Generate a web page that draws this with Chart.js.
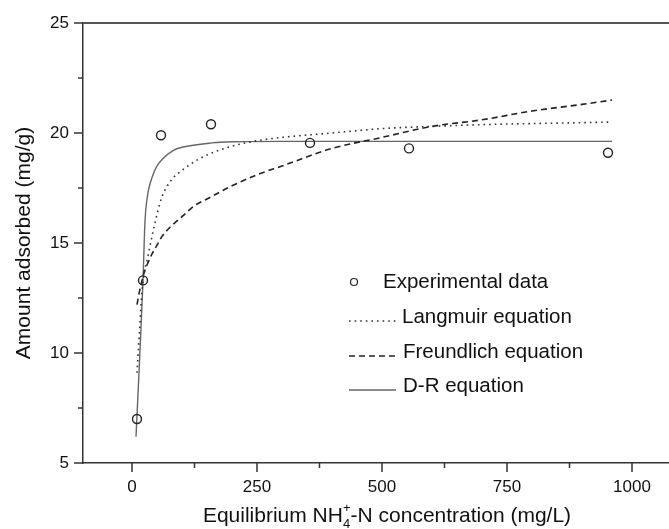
<!DOCTYPE html>
<html>
<head>
<meta charset="utf-8">
<script src="https://cdn.jsdelivr.net/npm/chart.js@4/dist/chart.umd.min.js"></script>
<style>
  html, body { margin: 0; padding: 0; background: #fff; }
  #wrap { width: 669px; height: 529px; }
</style>
</head>
<body>
<div id="wrap"><canvas id="chart"></canvas></div>
<script>
// Experimental points
const expX = [10, 22, 58, 158, 356, 554, 952];
const expY = [7.0, 13.3, 19.9, 20.4, 19.55, 19.3, 19.1];

// Langmuir fit
const langX = [10, 15, 20, 25, 30, 40, 50, 60, 80, 100, 125, 150, 200, 250, 300, 400, 500, 600, 700, 800, 900, 960];
const langY = [9.1, 11.0, 12.8, 13.7, 14.2, 15.3, 16.3, 17.1, 17.9, 18.3, 18.7, 19.0, 19.4, 19.65, 19.8, 20.0, 20.2, 20.3, 20.38, 20.43, 20.47, 20.5];

// Freundlich fit (dashed curve)
const freuX = [10, 15, 20, 25, 30, 40, 50, 60, 80, 100, 125, 150, 200, 250, 300, 400, 500, 600, 700, 800, 900, 960];
const freuY = [12.2, 12.8, 13.3, 13.7, 14.0, 14.5, 14.9, 15.3, 15.8, 16.2, 16.7, 17.0, 17.6, 18.1, 18.5, 19.3, 19.8, 20.3, 20.6, 21.0, 21.3, 21.5];

// D-R fit (solid curve)
const drX = [8, 15, 22, 26, 30, 42, 50, 60, 82, 100, 160, 200, 300, 500, 700, 960];
const drY = [6.2, 9.6, 13.3, 16.0, 17.0, 18.1, 18.5, 18.8, 19.2, 19.35, 19.55, 19.6, 19.62, 19.62, 19.62, 19.62];

// Axis ticks
const xMajor = [0, 250, 500, 750, 1000];
const xMinor = [125, 375, 625, 875];
const yMajor = [5, 10, 15, 20, 25];
const yMinor = [7.5, 12.5, 17.5, 22.5];

const xTitle = ['Equilibrium NH', '4', '+', '-N concentration (mg/L)'];
const yTitle = 'Amount adsorbed (mg/g)';

const FONT = 'Arial, "Liberation Sans", Helvetica, sans-serif';

function pts(xs, ys) {
  return xs.map((v, i) => ({ x: v, y: ys[i] }));
}

// tick marks, top border and x title with sub/superscript
const axisExtras = {
  id: 'axisExtras',
  afterDraw(chart) {
    const { ctx, chartArea: a, scales: { x, y } } = chart;
    ctx.save();
    ctx.strokeStyle = '#333';
    ctx.lineWidth = 1.5;
    const seg = (x1, y1, x2, y2) => {
      ctx.beginPath(); ctx.moveTo(x1, y1); ctx.lineTo(x2, y2); ctx.stroke();
    };
    xMajor.forEach(v => { const p = x.getPixelForValue(v); seg(p, a.bottom, p, a.bottom + 9); });
    xMinor.forEach(v => { const p = x.getPixelForValue(v); seg(p, a.bottom, p, a.bottom + 5); });
    yMajor.forEach(v => { const p = y.getPixelForValue(v); seg(a.left, p, a.left - 9, p); });
    yMinor.forEach(v => { const p = y.getPixelForValue(v); seg(a.left, p, a.left - 5, p); });
    ctx.strokeStyle = '#555';
    ctx.lineWidth = 2;
    seg(a.left, a.top, a.right, a.top);

    // x axis title
    const big = '21px ' + FONT, small = '13px ' + FONT;
    ctx.fillStyle = '#111';
    ctx.textBaseline = 'alphabetic';
    ctx.textAlign = 'left';
    ctx.font = big;
    const w1 = ctx.measureText(xTitle[0]).width;
    const w4 = ctx.measureText(xTitle[3]).width;
    ctx.font = small;
    const ws = Math.max(ctx.measureText(xTitle[1]).width, ctx.measureText(xTitle[2]).width);
    const total = w1 + ws + w4;
    const cx = x.getPixelForValue(510);
    const base = 522;
    let sx = cx - total / 2;
    ctx.font = big;
    ctx.fillText(xTitle[0], sx, base);
    ctx.font = small;
    ctx.fillText(xTitle[1], sx + w1, base + 6);
    ctx.fillText(xTitle[2], sx + w1, base - 10);
    ctx.font = big;
    ctx.fillText(xTitle[3], sx + w1 + ws, base);
    ctx.restore();
  }
};

// legend inside the plot, Origin style
const legendRows = [
  { sx: 354, tx: 383, y: 282 },
  { sx: 349, tx: 402, y: 317 },
  { sx: 349, tx: 403, y: 352 },
  { sx: 349, tx: 403, y: 386 }
];
const insideLegend = {
  id: 'insideLegend',
  afterDraw(chart) {
    const ctx = chart.ctx;
    ctx.save();
    ctx.font = '20.5px ' + FONT;
    ctx.textBaseline = 'middle';
    ctx.textAlign = 'left';
    chart.data.datasets.forEach((ds, i) => {
      const r = legendRows[i];
      ctx.strokeStyle = ds.borderColor;
      ctx.lineWidth = ds.borderWidth;
      if (!ds.showLine) {
        ctx.beginPath();
        ctx.arc(r.sx, r.y, 3.5, 0, Math.PI * 2);
        ctx.stroke();
      } else {
        ctx.setLineDash(ds.borderDash || []);
        ctx.beginPath();
        ctx.moveTo(r.sx, r.y + 4);
        ctx.lineTo(r.sx + 47, r.y + 4);
        ctx.stroke();
        ctx.setLineDash([]);
      }
      ctx.fillStyle = '#111';
      ctx.fillText(ds.label, r.tx, r.y);
    });
    ctx.restore();
  }
};

new Chart(document.getElementById('chart'), {
  type: 'scatter',
  data: {
    datasets: [
      {
        label: 'Experimental data',
        data: pts(expX, expY),
        showLine: false,
        pointRadius: 4.5,
        pointBorderWidth: 1.4,
        borderColor: '#222',
        borderWidth: 1.2,
        backgroundColor: 'rgba(0,0,0,0)',
        pointBackgroundColor: 'rgba(0,0,0,0)'
      },
      {
        label: 'Langmuir equation',
        data: pts(langX, langY),
        showLine: true,
        pointRadius: 0,
        borderColor: '#333',
        borderWidth: 1.6,
        borderDash: [1.6, 4],
        cubicInterpolationMode: 'monotone'
      },
      {
        label: 'Freundlich equation',
        data: pts(freuX, freuY),
        showLine: true,
        pointRadius: 0,
        borderColor: '#222',
        borderWidth: 1.6,
        borderDash: [6, 4],
        cubicInterpolationMode: 'monotone'
      },
      {
        label: 'D-R equation',
        data: pts(drX, drY),
        showLine: true,
        pointRadius: 0,
        borderColor: '#666',
        borderWidth: 1.4,
        cubicInterpolationMode: 'monotone'
      }
    ]
  },
  options: {
    responsive: true,
    maintainAspectRatio: false,
    animation: false,
    layout: { autoPadding: false, padding: { top: 23, right: 0, left: 0, bottom: 0 } },
    plugins: {
      legend: { display: false },
      tooltip: { enabled: false }
    },
    scales: {
      x: {
        type: 'linear',
        min: -98,
        max: 1074,
        afterBuildTicks: s => { s.ticks = xMajor.map(v => ({ value: v })); },
        afterFit: s => { s.height = 66; s.paddingLeft = 0; s.paddingRight = 0; },
        grid: { display: false, drawTicks: false },
        border: { display: true, color: '#333', width: 1.5 },
        ticks: {
          padding: 14, color: '#111', font: { family: FONT, size: 17 }, maxRotation: 0,
          callback: v => String(v)
        },
        title: { display: false }
      },
      y: {
        min: 5,
        max: 25,
        afterBuildTicks: s => { s.ticks = yMajor.map(v => ({ value: v })); },
        afterFit: s => { s.width = 83; s.paddingTop = 0; s.paddingBottom = 0; },
        grid: { display: false, drawTicks: false },
        border: { display: true, color: '#333', width: 1.5 },
        ticks: { padding: 14, color: '#111', font: { family: FONT, size: 17 } },
        title: {
          display: true,
          text: yTitle,
          color: '#111',
          font: { family: FONT, size: 21 },
          padding: { top: 12, bottom: 0 }
        }
      }
    }
  },
  plugins: [axisExtras, insideLegend]
});
</script>
</body>
</html>
